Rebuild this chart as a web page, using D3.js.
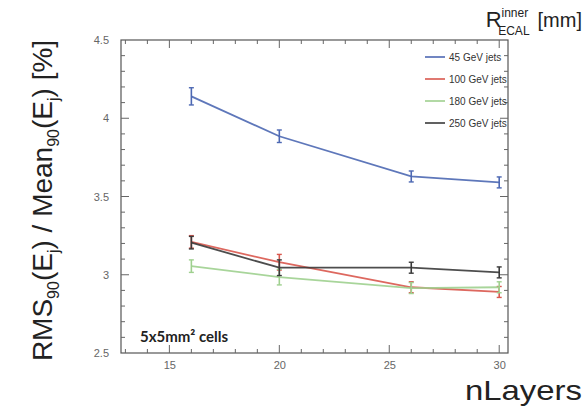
<!DOCTYPE html>
<html>
<head>
<meta charset="utf-8">
<script src="https://cdn.jsdelivr.net/npm/d3@7"></script>
<style>
  body { margin: 0; background: #fff; }
  svg { display: block; }
  text { font-family: "Liberation Sans", Arial, sans-serif; }
</style>
</head>
<body>
<div id="chart"></div>
<script>
var width = 585, height = 413;
var margin = { top: 40, right: 77, bottom: 60, left: 121 };

// data
var nLayers = [16, 20, 26, 30];
var labels = ["45 GeV jets", "100 GeV jets", "180 GeV jets", "250 GeV jets"];
var colors = ["#4d68b3", "#d9584e", "#9fd08f", "#3a3a3a"];
var jets45 = [4.14, 3.885, 3.628, 3.59];
var jets100 = [3.21, 3.08, 2.92, 2.89];
var jets180 = [3.055, 2.985, 2.915, 2.92];
var jets250 = [3.205, 3.045, 3.045, 3.015];
var err45 = [0.055, 0.04, 0.035, 0.035];
var err100 = [0.04, 0.05, 0.035, 0.035];
var err180 = [0.04, 0.05, 0.035, 0.035];
var err250 = [0.04, 0.05, 0.035, 0.035];
var xTicks = [15, 20, 25, 30];
var yTicks = [2.5, 3, 3.5, 4, 4.5];

var values = [jets45, jets100, jets180, jets250];
var errors = [err45, err100, err180, err250];

var svg = d3.select("#chart").append("svg").attr("width", width).attr("height", height);

var x = d3.scaleLinear().domain([12.8, 30.4]).range([margin.left, width - margin.right]);
var y = d3.scaleLinear().domain([2.5, 4.5]).range([height - margin.bottom, margin.top]);

var x0 = x.range()[0], x1 = x.range()[1], y0 = y.range()[0], y1 = y.range()[1];

// frame
svg.append("rect")
    .attr("x", x0).attr("y", y1)
    .attr("width", x1 - x0).attr("height", y0 - y1)
    .attr("fill", "none").attr("stroke", "#555").attr("stroke-width", 1.2);

var xMinor = d3.range(13, 31, 1);
var yMinor = d3.range(2.6, 4.45, 0.1);

function tickLen(v, step) { return Math.abs(v / step - Math.round(v / step)) < 1e-6 ? 8 : 4; }

// ticks on the four sides (inside)
var tg = svg.append("g").attr("stroke", "#666").attr("stroke-width", 1);
xMinor.forEach(function (v) {
    var l = tickLen(v, 5);
    tg.append("line").attr("x1", x(v)).attr("x2", x(v)).attr("y1", y0).attr("y2", y0 - l);
    tg.append("line").attr("x1", x(v)).attr("x2", x(v)).attr("y1", y1).attr("y2", y1 + l);
});
yMinor.forEach(function (v) {
    var l = tickLen(v, 0.5);
    tg.append("line").attr("x1", x0).attr("x2", x0 + l).attr("y1", y(v)).attr("y2", y(v));
    tg.append("line").attr("x1", x1).attr("x2", x1 - l).attr("y1", y(v)).attr("y2", y(v));
});

// tick labels through d3 axes
var xAxis = svg.append("g")
    .attr("transform", "translate(0," + y0 + ")")
    .call(d3.axisBottom(x).tickValues(xTicks).tickSize(0).tickPadding(8).tickFormat(d3.format("d")));
var yAxis = svg.append("g")
    .attr("transform", "translate(" + x0 + ",0)")
    .call(d3.axisLeft(y).tickValues(yTicks).tickSize(0).tickPadding(12).tickFormat(function (d) { return d; }));
[xAxis, yAxis].forEach(function (a) {
    a.select(".domain").remove();
    a.selectAll("text").attr("fill", "#666").style("font-size", "11px")
        .style("font-family", "'Liberation Sans', Arial, sans-serif");
});

// series
var line = d3.line()
    .x(function (d) { return x(d[0]); })
    .y(function (d) { return y(d[1]); });

values.forEach(function (vals, i) {
    var pts = nLayers.map(function (n, j) { return [n, vals[j]]; });
    var g = svg.append("g").attr("stroke", colors[i]).attr("fill", "none");
    g.append("path").attr("d", line(pts)).attr("stroke-width", 1.8).attr("stroke-opacity", 0.9);
    pts.forEach(function (p, j) {
        var e = errors[i][j];
        g.append("line").attr("x1", x(p[0])).attr("x2", x(p[0]))
            .attr("y1", y(p[1] - e)).attr("y2", y(p[1] + e)).attr("stroke-width", 1.6);
        [p[1] - e, p[1] + e].forEach(function (v) {
            g.append("line").attr("x1", x(p[0]) - 2.5).attr("x2", x(p[0]) + 2.5)
                .attr("y1", y(v)).attr("y2", y(v)).attr("stroke-width", 1.4);
        });
    });
});

// legend
var leg = svg.append("g").attr("transform", "translate(425,57)");
labels.forEach(function (lab, i) {
    var row = leg.append("g").attr("transform", "translate(0," + (i * 22) + ")");
    row.append("line").attr("x1", 0).attr("x2", 20).attr("y1", 0).attr("y2", 0)
        .attr("stroke", colors[i]).attr("stroke-width", 1.6);
    row.append("text").attr("x", 24).attr("y", 4).text(lab)
        .attr("fill", "#333").style("font-size", "10px");
});

// annotation
svg.append("text").attr("x", 140).attr("y", 342)
    .style("font-family", "Lato, 'Open Sans', sans-serif").style("font-weight", "bold")
    .style("font-size", "15px").attr("fill", "#222")
    .text("5x5mm\u00b2 cells");

// top-right title
var t = svg.append("text").attr("x", 582).attr("y", 27).attr("text-anchor", "end").attr("fill", "#222");
t.append("tspan").style("font-size", "22px").text("R");
t.append("tspan").style("font-size", "12px").attr("dy", -10).text("inner");
t.append("tspan").style("font-size", "12px").attr("dx", -30).attr("dy", 18).text("ECAL");
t.append("tspan").style("font-size", "20px").attr("dx", 8).attr("dy", -8).text("[mm]");

// x title
svg.append("text").attr("x", 582).attr("y", 400).attr("text-anchor", "end")
    .attr("fill", "#222").style("font-size", "28px")
    .attr("textLength", 117).attr("lengthAdjust", "spacingAndGlyphs").text("nLayers");

// y title
var yt = svg.append("text")
    .attr("transform", "translate(52," + ((y0 + y1) / 2 + 4) + ") rotate(-90)")
    .attr("text-anchor", "middle").attr("fill", "#222").style("font-size", "28px");
yt.append("tspan").text("RMS");
yt.append("tspan").style("font-size", "16px").attr("dy", 7).text("90");
yt.append("tspan").attr("dy", -7).text("(E");
yt.append("tspan").style("font-size", "16px").attr("dy", 7).text("j");
yt.append("tspan").attr("dy", -7).text(") / Mean");
yt.append("tspan").style("font-size", "16px").attr("dy", 7).text("90");
yt.append("tspan").attr("dy", -7).text("(E");
yt.append("tspan").style("font-size", "16px").attr("dy", 7).text("j");
yt.append("tspan").attr("dy", -7).text(") [%]");
</script>
</body>
</html>
